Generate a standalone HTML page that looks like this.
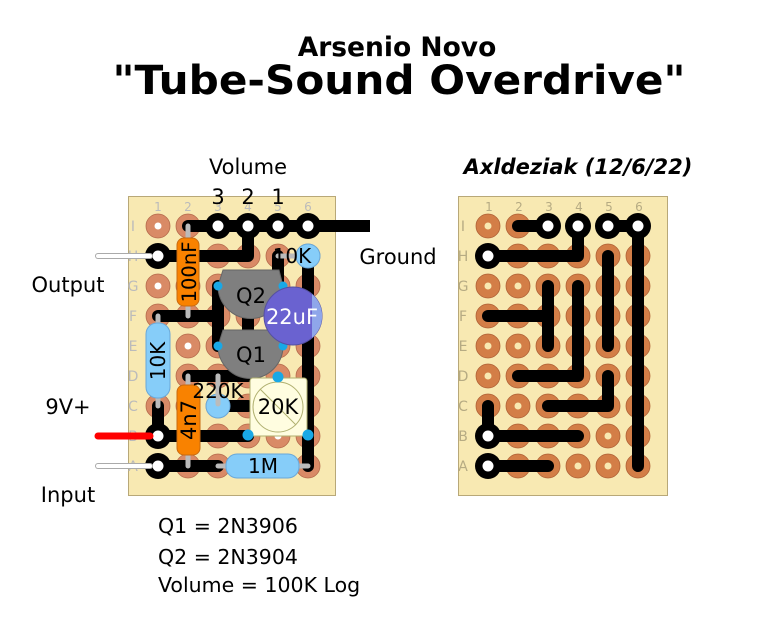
<!DOCTYPE html>
<html><head><meta charset="utf-8"><style>html,body{margin:0;padding:0;background:#fff}svg{display:block}</style></head><body>
<svg width="765" height="643" viewBox="0 0 765 643" xmlns="http://www.w3.org/2000/svg" font-family="DejaVu Sans, Liberation Sans, sans-serif">
<defs>
<g id="pad"><circle r="12" fill="#d98a66" stroke="#b56a4c" stroke-width="0.8"/><circle r="3.5" fill="#fff"/></g>
<g id="ring"><circle r="13" fill="#000"/><circle r="5.5" fill="#fff"/></g>
</defs>
<text x="397" y="56" text-anchor="middle" font-size="26.5" font-weight="bold">Arsenio Novo</text>
<text x="399" y="94" text-anchor="middle" font-size="40" font-weight="bold" textLength="573" lengthAdjust="spacingAndGlyphs">"Tube-Sound Overdrive"</text>
<text x="248" y="174" text-anchor="middle" font-size="21">Volume</text>
<text x="578" y="174" text-anchor="middle" font-size="21" font-weight="bold" font-style="italic">Axldeziak (12/6/22)</text>
<text x="398" y="264" text-anchor="middle" font-size="21">Ground</text>
<text x="68" y="292" text-anchor="middle" font-size="21">Output</text>
<text x="68" y="414" text-anchor="middle" font-size="21">9V+</text>
<text x="68" y="502" text-anchor="middle" font-size="21">Input</text>
<text x="158" y="533" font-size="20.5">Q1 = 2N3906</text>
<text x="158" y="564" font-size="20.5">Q2 = 2N3904</text>
<text x="158" y="592" font-size="20.5">Volume = 100K Log</text>

<!-- LEFT BOARD -->
<rect x="128.5" y="196.5" width="207" height="299" fill="#f8e9b2" stroke="#b8a878"/>
<g font-size="12" fill="#bbb" text-anchor="middle">
<text x="158" y="211">1</text><text x="188" y="211">2</text><text x="218" y="211">3</text><text x="248" y="211">4</text><text x="278" y="211">5</text><text x="308" y="211">6</text>
<text x="489" y="211">1</text><text x="519" y="211">2</text><text x="549" y="211">3</text><text x="579" y="211">4</text><text x="609" y="211">5</text><text x="639" y="211">6</text>
</g>
<g font-size="14" fill="#bbb" text-anchor="middle">
<text x="133" y="231">I</text><text x="133" y="261">H</text><text x="133" y="291">G</text><text x="133" y="321">F</text><text x="133" y="351">E</text><text x="133" y="381">D</text><text x="133" y="411">C</text><text x="133" y="441">B</text><text x="133" y="471">A</text>
<text x="463" y="231">I</text><text x="463" y="261">H</text><text x="463" y="291">G</text><text x="463" y="321">F</text><text x="463" y="351">E</text><text x="463" y="381">D</text><text x="463" y="411">C</text><text x="463" y="441">B</text><text x="463" y="471">A</text>
</g>
<g id="padsL">
<g transform="translate(158,0)"><use href="#pad" y="226"/><use href="#pad" y="256"/><use href="#pad" y="286"/><use href="#pad" y="316"/><use href="#pad" y="346"/><use href="#pad" y="376"/><use href="#pad" y="406"/><use href="#pad" y="436"/><use href="#pad" y="466"/></g>
<g transform="translate(188,0)"><use href="#pad" y="226"/><use href="#pad" y="256"/><use href="#pad" y="286"/><use href="#pad" y="316"/><use href="#pad" y="346"/><use href="#pad" y="376"/><use href="#pad" y="406"/><use href="#pad" y="436"/><use href="#pad" y="466"/></g>
<g transform="translate(218,0)"><use href="#pad" y="226"/><use href="#pad" y="256"/><use href="#pad" y="286"/><use href="#pad" y="316"/><use href="#pad" y="346"/><use href="#pad" y="376"/><use href="#pad" y="406"/><use href="#pad" y="436"/><use href="#pad" y="466"/></g>
<g transform="translate(248,0)"><use href="#pad" y="226"/><use href="#pad" y="256"/><use href="#pad" y="286"/><use href="#pad" y="316"/><use href="#pad" y="346"/><use href="#pad" y="376"/><use href="#pad" y="406"/><use href="#pad" y="436"/><use href="#pad" y="466"/></g>
<g transform="translate(278,0)"><use href="#pad" y="226"/><use href="#pad" y="256"/><use href="#pad" y="286"/><use href="#pad" y="316"/><use href="#pad" y="346"/><use href="#pad" y="376"/><use href="#pad" y="406"/><use href="#pad" y="436"/><use href="#pad" y="466"/></g>
<g transform="translate(308,0)"><use href="#pad" y="226"/><use href="#pad" y="256"/><use href="#pad" y="286"/><use href="#pad" y="316"/><use href="#pad" y="346"/><use href="#pad" y="376"/><use href="#pad" y="406"/><use href="#pad" y="436"/><use href="#pad" y="466"/></g>
</g>
<use href="#padsL" x="330"/>

<!-- left traces -->
<g stroke="#000" stroke-width="12" stroke-linecap="round" stroke-linejoin="round" fill="none">
<path d="M188,226H308"/>
<path d="M158,256H248V226"/>
<path d="M158,316H218"/><path d="M218,286V346"/>
<path d="M248,300V332"/>
<path d="M278,256V286"/>
<path d="M308,256V466"/>
<path d="M188,376H248"/>
<path d="M218,406H248"/>
<path d="M158,406V436H248"/>
<path d="M158,466H218"/>
</g>
<path d="M308,226H370" stroke="#000" stroke-width="12"/>
<use href="#ring" x="158" y="256"/><use href="#ring" x="158" y="436"/><use href="#ring" x="158" y="466"/>
<use href="#ring" x="218" y="226"/><use href="#ring" x="248" y="226"/><use href="#ring" x="278" y="226"/><use href="#ring" x="308" y="226"/>
<g font-size="21" text-anchor="middle"><text x="218" y="204">3</text><text x="248" y="204">2</text><text x="278" y="204">1</text></g>

<!-- wires -->
<g stroke-linecap="round">
<path d="M98,256H150" stroke="#aaa" stroke-width="6"/><path d="M98,256H150" stroke="#fff" stroke-width="4"/>
<path d="M98,466H150" stroke="#aaa" stroke-width="6"/><path d="M98,466H150" stroke="#fff" stroke-width="4"/>
<path d="M98,436H150" stroke="#f00" stroke-width="7"/>
</g>

<!-- leads -->
<g stroke="#bbb" stroke-width="5" stroke-linecap="round">
<path d="M188,226V316"/><path d="M158,316V406"/><path d="M188,376V466"/><path d="M218,376V404"/><path d="M218,466H308"/><path d="M278,256H308"/>
</g>

<!-- transistors -->
<g fill="#7f7f7f" stroke="#666" stroke-width="1">
<path d="M223,270H279L283,286A32,32 0 0 1 218,286Z"/>
<path d="M223,330H279L283,346A32,32 0 0 1 218,346Z"/>
</g>
<g fill="#19a8e6"><circle cx="218" cy="286" r="4.5"/><circle cx="218" cy="346" r="4.5"/><circle cx="283" cy="286" r="4.5"/><circle cx="283" cy="346" r="4.5"/></g>
<g font-size="21" text-anchor="middle"><text x="251" y="303">Q2</text><text x="251" y="362">Q1</text></g>

<!-- 22uF -->
<circle cx="293" cy="316" r="29" fill="#6a62d0" stroke="#5550a0"/>
<path d="M312,294A29,29 0 0 1 312,338Z" fill="#8fa6ea"/>
<text x="292" y="324" font-size="21" fill="#fff" text-anchor="middle">22uF</text>

<!-- 10K at H -->
<circle cx="308" cy="256" r="12" fill="#86cdf9" stroke="#6aa8d8"/>
<text x="292" y="263" font-size="20" text-anchor="middle">10K</text>

<!-- 100nF -->
<rect x="177" y="238" width="22" height="68" rx="7" fill="#f98200" stroke="#c86a10"/>
<text transform="translate(196,272) rotate(-90)" font-size="19.5" text-anchor="middle">100nF</text>
<!-- 10K vertical -->
<rect x="146" y="323" width="24" height="75" rx="11" fill="#86cdf9" stroke="#6aa8d8"/>
<text transform="translate(165,361) rotate(-90)" font-size="20" text-anchor="middle">10K</text>
<!-- 4n7 -->
<rect x="177" y="385" width="23" height="70" rx="7" fill="#f98200" stroke="#c86a10"/>
<text transform="translate(196,420) rotate(-90)" font-size="21" text-anchor="middle">4n7</text>
<!-- 220K -->
<circle cx="218" cy="406" r="12" fill="#86cdf9" stroke="#6aa8d8"/>
<path d="M218,376V404" stroke="#bbb" stroke-width="5" stroke-linecap="round"/>
<text x="218" y="398" font-size="20" text-anchor="middle">220K</text>
<!-- 20K trimmer -->
<rect x="250" y="378" width="57" height="58" rx="3" fill="#fffde0" stroke="#b0b070"/>
<circle cx="278" cy="407" r="25" fill="none" stroke="#b0b070"/>
<path d="M260,389L296,425" stroke="#b0b070"/>
<text x="278" y="414" font-size="21" text-anchor="middle">20K</text>
<g fill="#19a8e6"><circle cx="278" cy="377" r="5.5"/><circle cx="248" cy="435" r="5.5"/><circle cx="308" cy="435" r="5.5"/></g>
<!-- 1M -->
<rect x="226" y="454" width="73" height="24" rx="11" fill="#86cdf9" stroke="#6aa8d8"/>
<text x="263" y="473" font-size="20" text-anchor="middle">1M</text>

<!-- RIGHT BOARD -->
<rect x="458.5" y="196.5" width="209" height="299" fill="none" stroke="#b8a878"/>
<rect x="459" y="197" width="208" height="298" fill="#f8e9b2" style="mix-blend-mode:multiply"/>
<g stroke="#000" stroke-width="12" stroke-linecap="round" stroke-linejoin="round" fill="none">
<path d="M518,226H548"/><path d="M608,226H638V466"/>
<path d="M578,226V256H488"/>
<path d="M608,256V346"/>
<path d="M548,286V346"/><path d="M488,316H548"/>
<path d="M578,286V376H518"/>
<path d="M608,376V406H548"/>
<path d="M488,406V436H578"/>
<path d="M488,466H548"/>
</g>
<use href="#ring" x="548" y="226"/><use href="#ring" x="578" y="226"/><use href="#ring" x="608" y="226"/><use href="#ring" x="638" y="226"/>
<use href="#ring" x="488" y="256"/><use href="#ring" x="488" y="436"/><use href="#ring" x="488" y="466"/>
</svg>
</body></html>
